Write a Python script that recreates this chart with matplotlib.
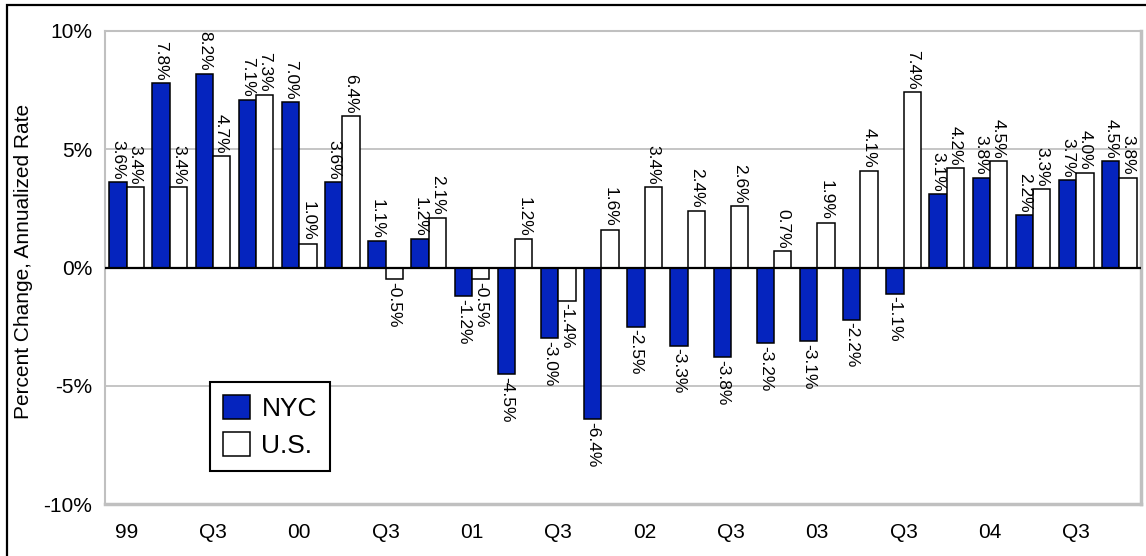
"""Quarterly percent change, NYC vs U.S., annualized rate"""

import matplotlib
matplotlib.use('Agg')
import matplotlib.pyplot as plt
import matplotlib.patches as patches
import numpy as np

plt.rcParams['font.family'] = ['Liberation Sans', 'DejaVu Sans']

# one bar pair per quarter, 1999 Q1 .. 2004 Q4
nyc = [3.6, 7.8, 8.2, 7.1, 7.0, 3.6, 1.1, 1.2, -1.2, -4.5, -3.0, -6.4,
       -2.5, -3.3, -3.8, -3.2, -3.1, -2.2, -1.1, 3.1, 3.8, 2.2, 3.7, 4.5]
us = [3.4, 3.4, 4.7, 7.3, 1.0, 6.4, -0.5, 2.1, -0.5, 1.2, -1.4, 1.6,
      3.4, 2.4, 2.6, 0.7, 1.9, 4.1, 7.4, 4.2, 4.5, 3.3, 4.0, 3.8]
quarter_labels = ['99', 'Q3', '00', 'Q3', '01', 'Q3', '02', 'Q3', '03', 'Q3', '04', 'Q3']
y_ticks = [10, 5, 0, -5, -10]
y_tick_labels = ['10%', '5%', '0%', '-5%', '-10%']

BLUE = '#0524BE'
GRID = '#c0c0c0'

fig = plt.figure(figsize=(11.46, 5.56), dpi=100)
ax = fig.add_axes([105 / 1146, 1 - 504 / 556, 1036 / 1146, 473 / 556])

x = np.arange(len(nyc))
w = 0.4
b1 = ax.bar(x - w / 2, nyc, w, color=BLUE, edgecolor='black', linewidth=1.1,
            label='NYC', zorder=3)
b2 = ax.bar(x + w / 2, us, w, color='white', edgecolor='black', linewidth=1.1,
            label='U.S.', zorder=3)

# value labels, rotated, just past the end of each bar
for bars, vals in ((b1, nyc), (b2, us)):
    for bar, v in zip(bars, vals):
        cx = bar.get_x() + bar.get_width() / 2
        if v >= 0:
            ax.annotate('{:.1f}%'.format(v), (cx, v), xytext=(0, 2),
                        textcoords='offset points', rotation=270,
                        ha='center', va='bottom', fontsize=12.5, zorder=4)
        else:
            ax.annotate('{:.1f}%'.format(v), (cx, v), xytext=(0, -2),
                        textcoords='offset points', rotation=270,
                        ha='center', va='top', fontsize=12.5, zorder=4)

ax.axhline(0, color='black', linewidth=1.6, zorder=4)
for g in (5, -5):
    ax.axhline(g, color=GRID, linewidth=1.3, zorder=1)

ax.set_xlim(-0.5, len(nyc) - 0.5)
ax.set_ylim(-10, 10)
ax.set_yticks(y_ticks)
ax.set_yticklabels(y_tick_labels)
ax.set_xticks(x[::2])
ax.set_xticklabels(quarter_labels)
ax.tick_params(axis='y', length=0, pad=9, labelsize=15)
ax.tick_params(axis='x', length=0, pad=14, labelsize=15)
ax.set_ylabel('Percent Change, Annualized Rate', fontsize=15, labelpad=8)
ax.yaxis.label.set_y(0.512)

for side in ('top', 'left'):
    ax.spines[side].set_color(GRID)
    ax.spines[side].set_linewidth(1.5)
for side in ('bottom', 'right'):
    ax.spines[side].set_color(GRID)
    ax.spines[side].set_linewidth(2.5)

leg = ax.legend(loc='upper left', bbox_to_anchor=(210 / 1146, 1 - 382 / 556),
                bbox_transform=fig.transFigure, borderaxespad=0, fontsize=19,
                handlelength=1.0, handleheight=1.0, handletextpad=0.45,
                borderpad=0.5, labelspacing=0.42, fancybox=False,
                framealpha=1, edgecolor='black')
leg.get_frame().set_linewidth(1.5)
leg.set_zorder(5)

# outer chart border
fig.patches.append(patches.Rectangle((7 / 1146, -0.1), 1.2, 1.1 - 5 / 556,
                                     transform=fig.transFigure, fill=False,
                                     edgecolor='black', linewidth=1.6))

fig.savefig('out.png', dpi=100)
